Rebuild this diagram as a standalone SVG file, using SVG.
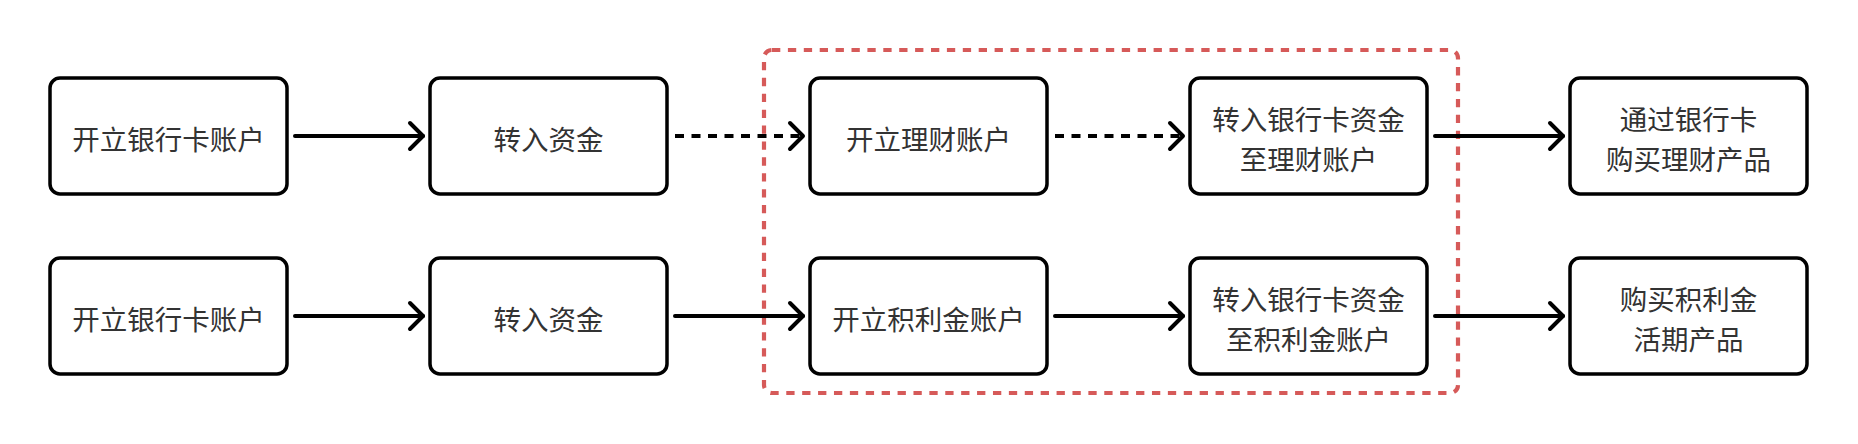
<svg xmlns="http://www.w3.org/2000/svg" width="1858" height="444" viewBox="0 0 1858 444">
<style>
.box{fill:#ffffff;stroke:#000000;stroke-width:3.5}
.lbl{font-family:"Noto Sans CJK SC","Noto Sans",sans-serif;font-size:27.5px;fill:#333333;text-anchor:middle;dominant-baseline:central}
.conn{fill:none;stroke:#000000;stroke-width:4;stroke-linecap:round}
.dash{stroke-dasharray:9 7.5;stroke-linecap:butt}
.group{fill:none;stroke:#d65a59;stroke-width:4.2;stroke-dasharray:8.3 7.6}
</style>
<defs>
<marker id="arr" markerUnits="userSpaceOnUse" markerWidth="40" markerHeight="40" viewBox="-20 -20 40 40" refX="0" refY="0" orient="auto">
<path d="M-13,-13 L0,0 L-13,13" fill="none" stroke="#000000" stroke-width="4" stroke-linecap="round" stroke-linejoin="round"/>
</marker>
</defs>
<rect id="scope" class="group" x="764" y="50" width="694" height="343" rx="8"/>
<g id="n1"><rect class="box" x="50" y="78" width="237" height="116" rx="10"/><text class="lbl" x="168.5" y="138">开立银行卡账户</text></g>
<g id="n2"><rect class="box" x="430" y="78" width="237" height="116" rx="10"/><text class="lbl" x="548.5" y="138">转入资金</text></g>
<g id="n3"><rect class="box" x="810" y="78" width="237" height="116" rx="10"/><text class="lbl" x="928.5" y="138">开立理财账户</text></g>
<g id="n4"><rect class="box" x="1190" y="78" width="237" height="116" rx="10"/><text class="lbl" x="1308.5" y="118">转入银行卡资金</text><text class="lbl" x="1308.5" y="158">至理财账户</text></g>
<g id="n5"><rect class="box" x="1570" y="78" width="237" height="116" rx="10"/><text class="lbl" x="1688.5" y="118">通过银行卡</text><text class="lbl" x="1688.5" y="158">购买理财产品</text></g>
<g id="n6"><rect class="box" x="50" y="258" width="237" height="116" rx="10"/><text class="lbl" x="168.5" y="318">开立银行卡账户</text></g>
<g id="n7"><rect class="box" x="430" y="258" width="237" height="116" rx="10"/><text class="lbl" x="548.5" y="318">转入资金</text></g>
<g id="n8"><rect class="box" x="810" y="258" width="237" height="116" rx="10"/><text class="lbl" x="928.5" y="318">开立积利金账户</text></g>
<g id="n9"><rect class="box" x="1190" y="258" width="237" height="116" rx="10"/><text class="lbl" x="1308.5" y="298">转入银行卡资金</text><text class="lbl" x="1308.5" y="338">至积利金账户</text></g>
<g id="n10"><rect class="box" x="1570" y="258" width="237" height="116" rx="10"/><text class="lbl" x="1688.5" y="298">购买积利金</text><text class="lbl" x="1688.5" y="338">活期产品</text></g>
<g id="connectors">
<path class="conn" d="M295,136 L423,136" marker-end="url(#arr)"/>
<path class="conn dash" d="M675,136 L803,136" marker-end="url(#arr)"/>
<path class="conn dash" d="M1055,136 L1183,136" marker-end="url(#arr)"/>
<path class="conn" d="M1435,136 L1563,136" marker-end="url(#arr)"/>
<path class="conn" d="M295,316 L423,316" marker-end="url(#arr)"/>
<path class="conn" d="M675,316 L803,316" marker-end="url(#arr)"/>
<path class="conn" d="M1055,316 L1183,316" marker-end="url(#arr)"/>
<path class="conn" d="M1435,316 L1563,316" marker-end="url(#arr)"/>
</g>
</svg>
